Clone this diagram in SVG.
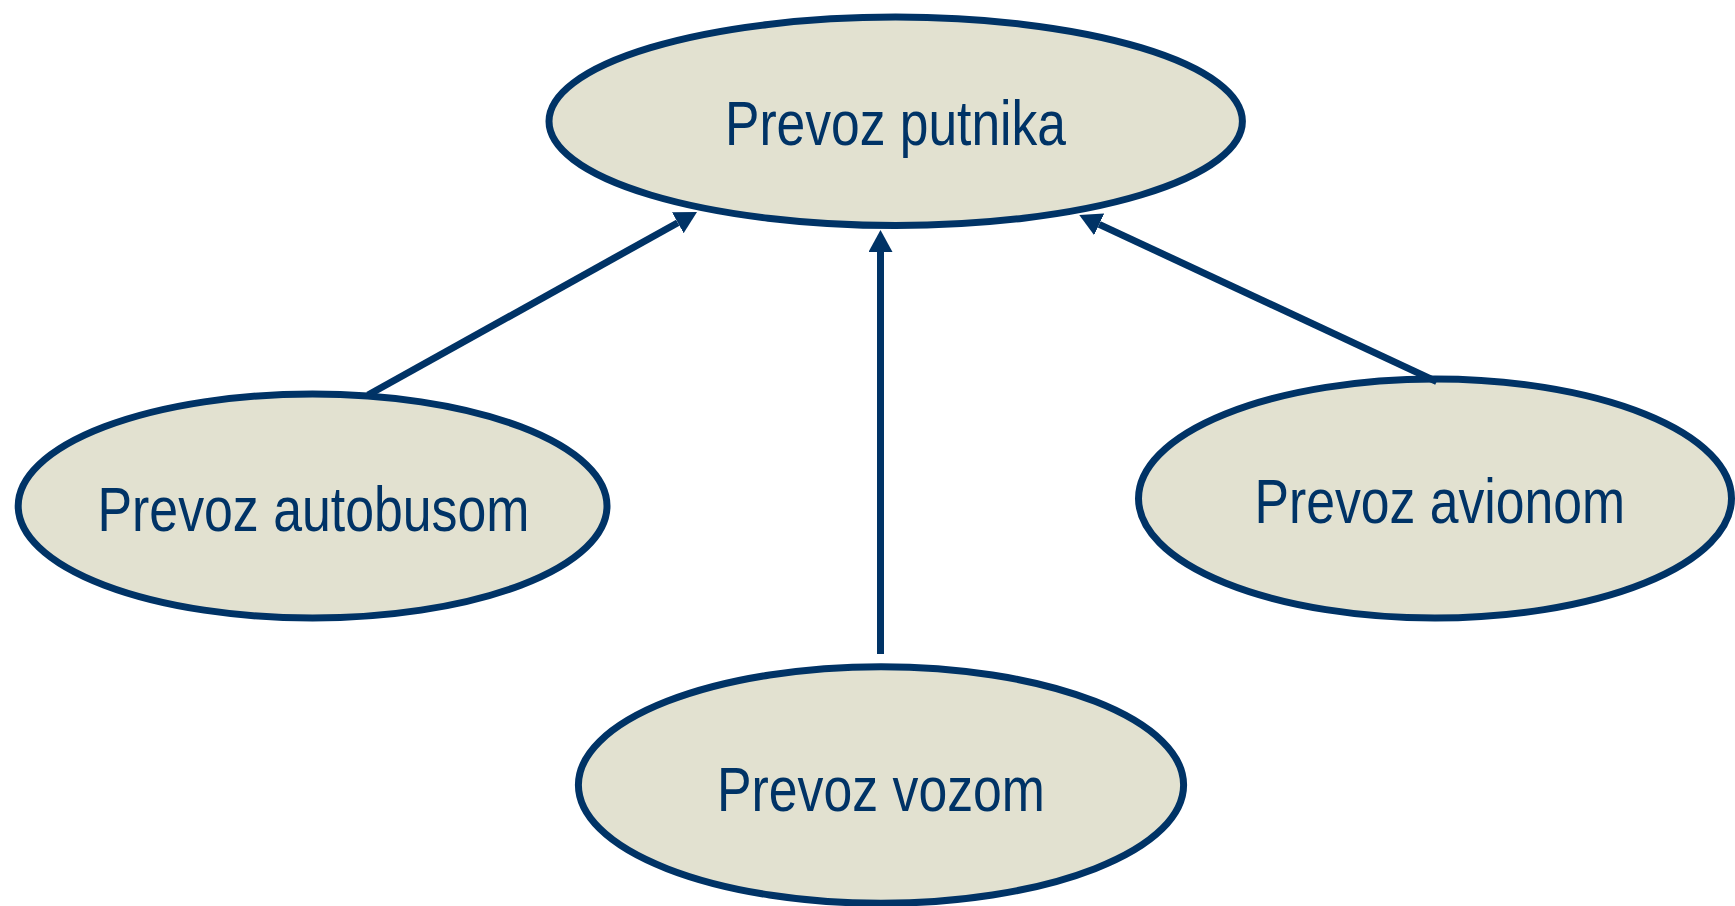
<svg xmlns="http://www.w3.org/2000/svg" width="1735" height="906" viewBox="0 0 1735 906">
  <style>
    .node ellipse { fill: #E2E1D0; stroke: #003366; stroke-width: 7; }
    .node text { font-family: "Liberation Sans", Arial, sans-serif; font-size: 63px; fill: #003366; }
    .edge { stroke: #003366; stroke-width: 7; fill: none; marker-end: url(#arrow); }
  </style>
  <defs>
    <marker id="arrow" viewBox="0 0 22 24" markerWidth="22" markerHeight="24" refX="0" refY="12" orient="auto" markerUnits="userSpaceOnUse">
      <path d="M0,0 L22,12 L0,24 z" fill="#003366"/>
    </marker>
  </defs>
  <rect width="1735" height="906" fill="#ffffff"/>
  <g id="node-putnika" class="node">
    <ellipse cx="895.7" cy="121.3" rx="346.7" ry="104.2"/>
    <text x="725" y="145" textLength="341" lengthAdjust="spacingAndGlyphs">Prevoz putnika</text>
  </g>
  <g id="node-autobusom" class="node">
    <ellipse cx="312.6" cy="506" rx="294.4" ry="112"/>
    <text x="97.5" y="530.7" textLength="432" lengthAdjust="spacingAndGlyphs">Prevoz autobusom</text>
  </g>
  <g id="node-avionom" class="node">
    <ellipse cx="1435" cy="498.5" rx="296.5" ry="119.5"/>
    <text x="1254.5" y="523.3" textLength="370.5" lengthAdjust="spacingAndGlyphs">Prevoz avionom</text>
  </g>
  <g id="node-vozom" class="node">
    <ellipse cx="881" cy="785" rx="302.6" ry="118.3"/>
    <text x="717" y="810.7" textLength="328" lengthAdjust="spacingAndGlyphs">Prevoz vozom</text>
  </g>
  <g id="connectors">
    <line class="edge" x1="368" y1="395" x2="677.8" y2="222.7"/>
    <line class="edge" x1="880.5" y1="654" x2="880.5" y2="252"/>
    <line class="edge" x1="1436.7" y1="381.7" x2="1099.2" y2="224.3"/>
  </g>
</svg>
